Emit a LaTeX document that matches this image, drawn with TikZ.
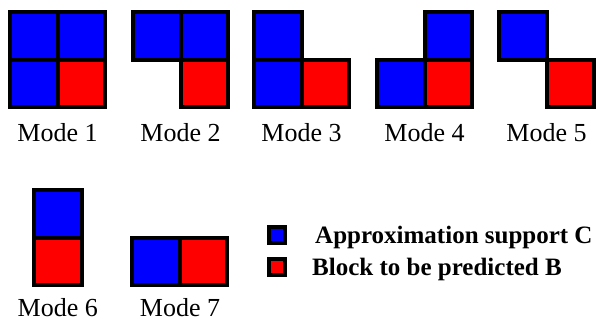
\documentclass[tikz,border=0pt]{standalone}
\usepackage{fontspec}
\setmainfont{Liberation Serif}
\definecolor{cblue}{RGB}{0,0,255}
\definecolor{cred}{RGB}{255,0,0}
\begin{document}
\begin{tikzpicture}[x=1pt,y=-1pt,
  cellbase/.style={draw=black,line width=4pt,minimum size=47.5pt,inner sep=0pt,outer sep=0pt},
  cb/.style={cellbase,fill=cblue},
  cr/.style={cellbase,fill=cred},
  legb/.style={draw=black,line width=4pt,minimum size=16pt,inner sep=0pt,outer sep=0pt,fill=cblue},
  legr/.style={draw=black,line width=4pt,minimum size=16pt,inner sep=0pt,outer sep=0pt,fill=cred},
  lab/.style={anchor=base,inner sep=0pt,text depth=0pt,font=\fontsize{26}{30}\selectfont},
  legtxt/.style={anchor=base west,inner sep=0pt,font=\fontsize{25}{30}\selectfont\bfseries}]
\useasboundingbox (0,0) rectangle (596,321);
% Mode 1 (L=10)
\node[cb] (m1a) at (33.75,35.75) {};
\node[cb] (m1b) at (81.25,35.75) {};
\node[cb] (m1c) at (33.75,83.25) {};
\node[cr] (m1d) at (81.25,83.25) {};
\node[lab] (l1) at (57.5,141) {Mode 1};
% Mode 2 (L=133)
\node[cb] (m2a) at (156.75,35.75) {};
\node[cb] (m2b) at (204.25,35.75) {};
\node[cr] (m2d) at (204.25,83.25) {};
\node[lab] (l2) at (180.5,141) {Mode 2};
% Mode 3 (L=254)
\node[cb] (m3a) at (277.75,35.75) {};
\node[cb] (m3c) at (277.75,83.25) {};
\node[cr] (m3d) at (325.25,83.25) {};
\node[lab] (l3) at (301.5,141) {Mode 3};
% Mode 4 (L=377)
\node[cb] (m4b) at (448.25,35.75) {};
\node[cb] (m4c) at (400.75,83.25) {};
\node[cr] (m4d) at (448.25,83.25) {};
\node[lab] (l4) at (424.5,141) {Mode 4};
% Mode 5 (L=499)
\node[cb] (m5a) at (522.75,35.75) {};
\node[cr] (m5d) at (570.25,83.25) {};
\node[lab] (l5) at (546.5,141) {Mode 5};
% Mode 6
\node[cb] (m6a) at (57.75,213.75) {};
\node[cr] (m6b) at (57.75,261.25) {};
\node[lab] (l6) at (57.75,316) {Mode 6};
% Mode 7
\node[cb] (m7a) at (155.75,261.5) {};
\node[cr] (m7b) at (203.25,261.5) {};
\node[lab] (l7) at (180,316) {Mode 7};
% Legend
\node[legb] (kb) at (277,235) {};
\node[legr] (kr) at (277,267) {};
\node[legtxt] (tb) at (315,243) {Approximation support C};
\node[legtxt] (tr) at (312,275) {Block to be predicted B};
\end{tikzpicture}
\end{document}
